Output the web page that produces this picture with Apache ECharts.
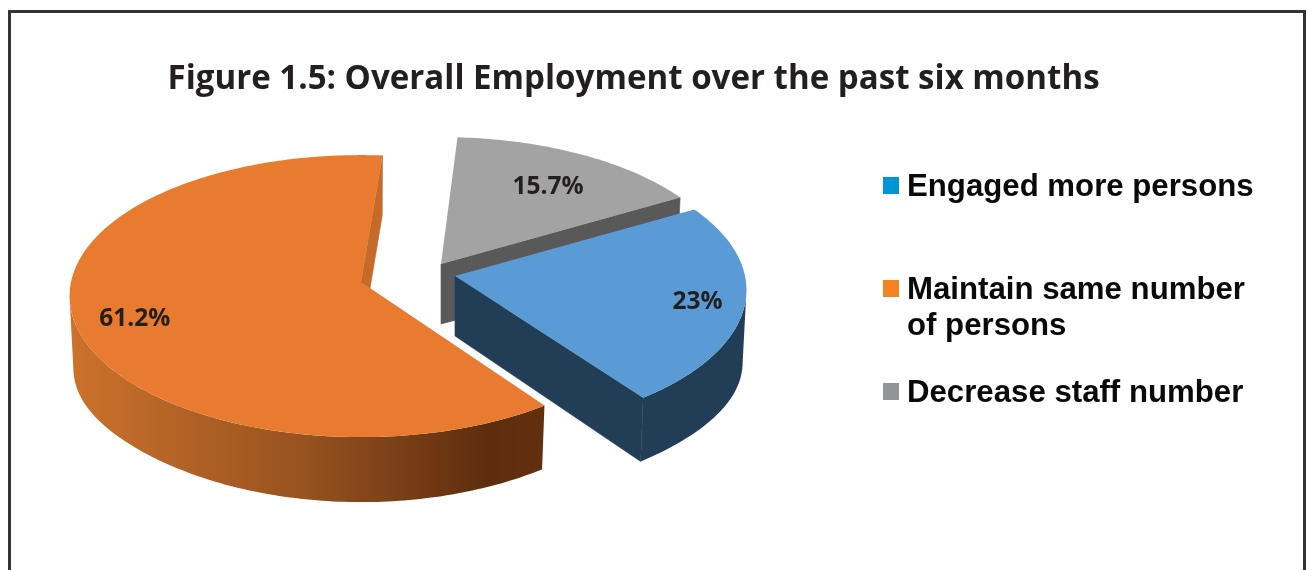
<!DOCTYPE html>
<html>
<head>
<meta charset="utf-8">
<style>html,body{margin:0;padding:0;background:#fff}#chart{width:1307px;height:570px}</style>
<script src="https://cdn.jsdelivr.net/npm/echarts@6/dist/echarts.min.js"></script>
</head>
<body>
<div id="chart"></div>
<script>
// Survey responses, in percent
const categories = ['Engaged more persons', 'Maintain same number\nof persons', 'Decrease staff number'];
const shares = [23, 61.2, 15.7];
const legendColors = ['#0096d6', '#f58220', '#929497'];

// Appearance of each slice
const topColors = ['#5b9bd5', '#e87b30', '#a3a3a3'];
const faceColors = ['#223e57', '#c56a28', '#595959'];
const rimFills = [
  '#223e57',
  { type: 'linear', x: 0, y: 0, x2: 1, y2: 0, colorStops: [
    { offset: 0, color: '#cc722c' }, { offset: 0.5, color: '#96521f' },
    { offset: 0.88, color: '#5e2d0e' }, { offset: 1, color: '#62300f' } ] },
  null
];
// Where each exploded slice's tip sits, its small turn under the tilted view,
// and how its label is placed
const tips = [[455, 276], [361, 282], [441, 264]];
const sliceTurn = [0, 1.1, 0];
const labelReach = [0.85, 0.8, 0.7];
const labelShift = [[-3, 1], [2, 6.5], [6, 2]];
const legendTops = [169, 272, 375];
// Square swatch that sits a little above the centre of its legend row
const swatch = 'path://M0 0H16V17H0ZM0 21L0 21Z';

// Tilted-disc projection; the rim spans the arc between the disc's side extremes
const RX = 290, RY = 141, PERSPECTIVE = 0.1, START_DEG = 60.2, BOTTOM_X = 0.987;
const RIM_FROM = 96, RIM_TO = 264;
const total = shares.reduce((a, b) => a + b, 0);

function project(tip, deg, r) {
  const t = deg * Math.PI / 180;
  const u = Math.sin(t) * r, v = -Math.cos(t) * r;
  const s = 1 + PERSPECTIVE * v;
  return [tip[0] + RX * u * s, tip[1] + RY * v * s];
}
function lower(tip, deg, r) {
  const t = deg * Math.PI / 180;
  const v = Math.max(-Math.cos(t) * r, 0);
  const p = project(tip, deg, r);
  const wall = 60 + 5 * v * v + 12 * Math.pow(Math.sin(t), 6);
  return [tip[0] + (p[0] - tip[0]) * BOTTOM_X, p[1] + wall];
}
function arc(fn, tip, a, b) {
  const pts = [];
  const n = Math.max(2, Math.ceil(Math.abs(b - a)));
  for (let i = 0; i <= n; i++) pts.push(fn(tip, a + (b - a) * i / n, 1));
  return pts;
}

function renderSlice(index) {
  return function (params, api) {
    const share = api.value(0);
    const before = shares.slice(0, index).reduce((a, b) => a + b, 0);
    const from = START_DEG + sliceTurn[index] + before / total * 360;
    const to = from + share / total * 360;
    const tip = tips[index];
    const children = [];

    // Side wall along the slice's closing radius
    const edgeTop = project(tip, to, 1), edgeLow = lower(tip, to, 1);
    children.push({
      type: 'polygon',
      shape: { points: [tip, edgeTop, edgeLow, [tip[0], tip[1] + 60]] },
      style: { fill: faceColors[index], stroke: faceColors[index], lineWidth: 0.6 }
    });

    // Outer rim, only the part that faces the viewer
    const rimFrom = Math.max(from, RIM_FROM), rimTo = Math.min(to, RIM_TO);
    if (rimFills[index] && rimTo > rimFrom) {
      const upper = arc(project, tip, rimFrom, rimTo);
      const under = arc(lower, tip, rimFrom, rimTo).reverse();
      children.push({
        type: 'polygon',
        shape: { points: upper.concat(under) },
        style: { fill: rimFills[index] }
      });
    }

    // Top surface
    children.push({
      type: 'polygon',
      shape: { points: [tip].concat(arc(project, tip, from, to)) },
      style: { fill: topColors[index] }
    });

    // Value label
    const pos = project(tip, (from + to) / 2, labelReach[index]);
    children.push({
      type: 'text',
      style: {
        x: pos[0] + labelShift[index][0], y: pos[1] + labelShift[index][1],
        text: share + '%', align: 'center', verticalAlign: 'middle',
        font: 'bold 24.5px "Open Sans", sans-serif', fill: '#231f20'
      }
    });
    return { type: 'group', children };
  };
}

const legendFont = { fontFamily: 'Liberation Sans', fontWeight: 'bold', fontSize: 31.2, color: '#0a0a0a' };

const chart = echarts.init(document.getElementById('chart'), null, { renderer: 'canvas' });
chart.setOption({
  animation: false,
  backgroundColor: '#fff',
  title: {
    text: 'Figure 1.5: Overall Employment over the past six months',
    left: 162.5, top: 58,
    textStyle: { fontFamily: 'Open Sans', fontWeight: 'bold', fontSize: 33.1, color: '#231f20' }
  },
  legend: categories.map((name, i) => ({
    show: true,
    data: [{ name, icon: swatch, itemStyle: { color: legendColors[i], borderWidth: 0 } }],
    formatter: (n) => n.split('\n')[0],
    left: 883, top: legendTops[i], orient: 'vertical', padding: 0,
    itemWidth: 16, itemHeight: 21, selectedMode: false,
    textStyle: Object.assign({ lineHeight: 37, padding: [0, 0, 0, 3] }, legendFont)
  })),
  graphic: [{
    type: 'rect', silent: true, z: 0,
    shape: { x: 9.5, y: 11.5, width: 1295, height: 620 },
    style: { fill: 'none', stroke: '#333', lineWidth: 3 }
  }, {
    // Second line of the wrapped legend entry
    type: 'text', silent: true, z: 5, x: 907, y: 326,
    style: {
      text: categories[1].split('\n')[1], verticalAlign: 'middle',
      font: 'bold 31.2px "Liberation Sans", sans-serif', fill: '#0a0a0a'
    }
  }],
  series: categories.map((name, i) => ({
    type: 'custom',
    name,
    coordinateSystem: 'none',
    silent: true,
    z: [3, 4, 2][i],
    itemStyle: { color: legendColors[i] },
    data: [[shares[i]]],
    renderItem: renderSlice(i)
  }))
});
</script>
</body>
</html>
